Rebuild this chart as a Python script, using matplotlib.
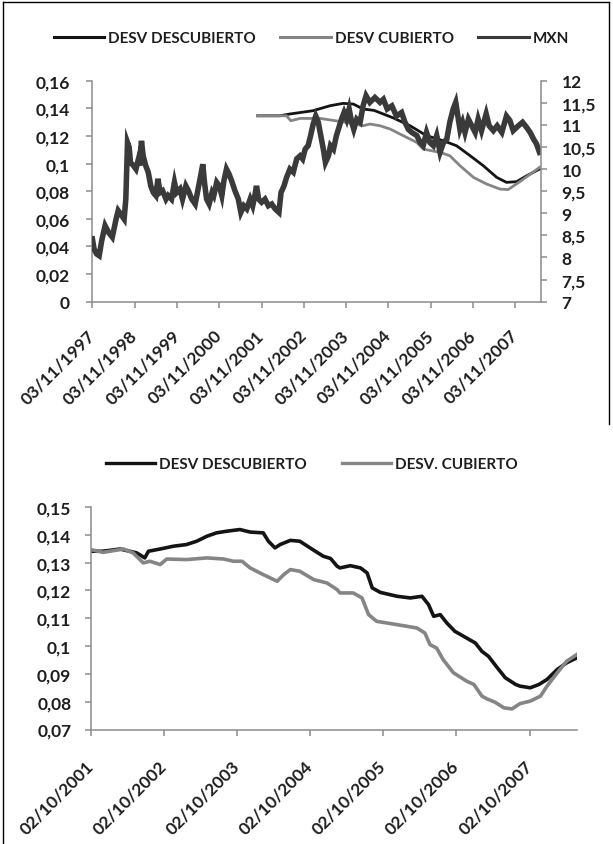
import matplotlib.pyplot as plt
from matplotlib.lines import Line2D

# ---- data (x in decimal years) ----
mxn_year = [1997.84, 1997.88, 1997.94, 1998.00, 1998.06, 1998.14, 1998.22, 1998.31, 1998.40, 1998.45,
            1998.53, 1998.59, 1998.63, 1998.67, 1998.71, 1998.74, 1998.81, 1998.87, 1998.93, 1998.96,
            1999.00, 1999.04, 1999.10, 1999.16, 1999.22, 1999.28, 1999.34, 1999.39, 1999.44, 1999.50,
            1999.58, 1999.63, 1999.71, 1999.78, 1999.83, 1999.91, 1999.97, 2000.05, 2000.11, 2000.19,
            2000.27, 2000.34, 2000.40, 2000.45, 2000.49, 2000.54, 2000.60, 2000.67, 2000.71, 2000.78,
            2000.84, 2000.90, 2000.95, 2001.01, 2001.07, 2001.13, 2001.21, 2001.29, 2001.35, 2001.42,
            2001.49, 2001.57, 2001.63, 2001.68, 2001.72, 2001.77, 2001.84, 2001.92, 2002.00, 2002.08,
            2002.16, 2002.25, 2002.30, 2002.37, 2002.43, 2002.51, 2002.59, 2002.67, 2002.75, 2002.81,
            2002.87, 2002.94, 2003.00, 2003.06, 2003.12, 2003.18, 2003.24, 2003.30, 2003.35, 2003.42,
            2003.47, 2003.54, 2003.61, 2003.68, 2003.73, 2003.79, 2003.85, 2003.91, 2003.97, 2004.02,
            2004.09, 2004.17, 2004.24, 2004.31, 2004.40, 2004.52, 2004.64, 2004.72, 2004.81, 2004.92,
            2005.03, 2005.15, 2005.23, 2005.31, 2005.39, 2005.51, 2005.59, 2005.66, 2005.74, 2005.82,
            2005.90, 2005.98, 2006.06, 2006.14, 2006.22, 2006.29, 2006.37, 2006.43, 2006.48, 2006.53,
            2006.59, 2006.65, 2006.73, 2006.81, 2006.89, 2006.96, 2007.04, 2007.15, 2007.22, 2007.32,
            2007.41, 2007.52, 2007.63, 2007.71, 2007.79, 2007.91, 2008.01, 2008.11, 2008.19, 2008.27,
            2008.34, 2008.41]
mxn_rate = [8.42, 8.19, 8.08, 8.04, 8.38, 8.72, 8.57, 8.46, 8.87, 9.06,
            8.95, 8.87, 9.32, 10.60, 10.49, 10.15, 10.08, 10.00, 10.23, 10.08,
            10.64, 10.30, 10.08, 9.93, 9.62, 9.47, 9.40, 9.78, 9.47, 9.51,
            9.32, 9.40, 9.32, 9.70, 9.47, 9.55, 9.32, 9.62, 9.51, 9.32,
            9.21, 9.55, 9.85, 10.11, 9.70, 9.32, 9.21, 9.47, 9.40, 9.70,
            9.62, 9.40, 9.74, 10.00, 9.89, 9.74, 9.51, 9.32, 9.02, 9.17,
            9.10, 9.32, 9.17, 9.40, 9.62, 9.32, 9.25, 9.32, 9.17, 9.21,
            9.10, 9.02, 9.47, 9.62, 9.81, 10.00, 9.93, 10.23, 10.30, 10.23,
            10.45, 10.53, 10.76, 11.02, 11.20, 11.06, 10.76, 10.45, 10.15, 10.30,
            10.53, 10.45, 10.76, 10.98, 11.13, 11.28, 11.13, 11.36, 11.06, 10.90,
            11.13, 11.06, 11.43, 11.66, 11.51, 11.62, 11.51, 11.58, 11.36, 11.43,
            11.20, 11.28, 11.06, 10.90, 10.83, 10.76, 10.60, 10.53, 10.83, 10.60,
            10.53, 10.76, 10.38, 10.60, 10.68, 11.06, 11.36, 11.51, 11.20, 10.90,
            11.06, 10.83, 11.13, 10.98, 10.83, 11.13, 10.87, 11.25, 10.98, 10.87,
            10.98, 10.83, 11.20, 11.10, 10.87, 10.98, 11.06, 10.94, 10.83, 10.68,
            10.57, 10.38]

top_descub_year = [2001.75, 2002.27, 2002.51, 2003.06, 2003.46, 2003.77, 2004.01, 2004.24, 2004.50,
                   2004.96, 2005.35, 2005.74, 2006.14, 2006.45, 2006.77, 2007.08, 2007.40, 2007.63,
                   2007.87, 2008.11, 2008.41]
top_descub = [0.1346, 0.1346, 0.1359, 0.1383, 0.1419, 0.1436, 0.1431, 0.1395, 0.1385,
              0.1330, 0.1274, 0.1202, 0.1165, 0.1129, 0.1057, 0.0985, 0.0900, 0.0864,
              0.0869, 0.0912, 0.0960]
top_cub_year = [2001.75, 2002.43, 2002.53, 2002.75, 2003.22, 2003.85, 2004.24, 2004.40, 2004.64,
                2004.88, 2005.19, 2005.51, 2005.66, 2006.06, 2006.29, 2006.53, 2006.85, 2007.16,
                2007.48, 2007.67, 2007.95, 2008.27, 2008.41]
top_cub = [0.1346, 0.1346, 0.1310, 0.1327, 0.1327, 0.1298, 0.1274, 0.1286, 0.1274,
           0.1250, 0.1202, 0.1153, 0.1105, 0.1081, 0.1057, 0.0985, 0.0900, 0.0852,
           0.0815, 0.0812, 0.0870, 0.0940, 0.0972]

bot_descub_year = [2001.75, 2001.92, 2002.15, 2002.38, 2002.49, 2002.54, 2002.70, 2002.88, 2003.06,
                   2003.20, 2003.34, 2003.47, 2003.61, 2003.79, 2003.93, 2004.11, 2004.18, 2004.27,
                   2004.34, 2004.48, 2004.61, 2004.75, 2004.93, 2005.03, 2005.12, 2005.16, 2005.30,
                   2005.44, 2005.53, 2005.60, 2005.71, 2005.94, 2006.12, 2006.28, 2006.37, 2006.44,
                   2006.53, 2006.62, 2006.73, 2006.89, 2007.01, 2007.10, 2007.19, 2007.31, 2007.42,
                   2007.56, 2007.62, 2007.76, 2007.88, 2007.99, 2008.13, 2008.26, 2008.40]
bot_descub = [0.1341, 0.1341, 0.1349, 0.1335, 0.1317, 0.1341, 0.1349, 0.1359, 0.1365,
              0.1377, 0.1395, 0.1407, 0.1413, 0.1419, 0.1410, 0.1407, 0.1377, 0.1353,
              0.1365, 0.1380, 0.1377, 0.1353, 0.1323, 0.1315, 0.1287, 0.1281, 0.1289,
              0.1281, 0.1263, 0.1209, 0.1193, 0.1179, 0.1173, 0.1179, 0.1149, 0.1107,
              0.1113, 0.1083, 0.1053, 0.1029, 0.1011, 0.0981, 0.0963, 0.0922, 0.0886,
              0.0862, 0.0856, 0.0850, 0.0862, 0.0880, 0.0916, 0.0940, 0.0958]
bot_cub_year = [2001.75, 2001.92, 2002.20, 2002.33, 2002.47, 2002.56, 2002.70, 2002.79, 2003.06,
                2003.34, 2003.57, 2003.70, 2003.82, 2003.93, 2004.11, 2004.30, 2004.39, 2004.48,
                2004.61, 2004.80, 2004.98, 2005.12, 2005.16, 2005.34, 2005.46, 2005.55, 2005.66,
                2005.94, 2006.21, 2006.32, 2006.39, 2006.48, 2006.57, 2006.71, 2006.89, 2006.99,
                2007.10, 2007.17, 2007.28, 2007.40, 2007.51, 2007.62, 2007.76, 2007.90, 2007.99,
                2008.13, 2008.26, 2008.40]
bot_cub = [0.1347, 0.1337, 0.1349, 0.1335, 0.1299, 0.1305, 0.1293, 0.1313, 0.1311,
           0.1317, 0.1313, 0.1305, 0.1305, 0.1281, 0.1257, 0.1233, 0.1257, 0.1275,
           0.1269, 0.1239, 0.1227, 0.1203, 0.1191, 0.1191, 0.1173, 0.1113, 0.1089,
           0.1077, 0.1065, 0.1047, 0.1005, 0.0993, 0.0951, 0.0904, 0.0874, 0.0862,
           0.0820, 0.0810, 0.0798, 0.0778, 0.0774, 0.0793, 0.0802, 0.0820, 0.0856,
           0.0904, 0.0946, 0.0970]

top_tick_years = list(range(1997, 2008))
top_xlabels = ['03/11/%d' % y for y in top_tick_years]
bot_tick_years = list(range(2001, 2008))
bot_xlabels = ['02/10/%d' % y for y in bot_tick_years]

top_left_ticks = [0, 0.02, 0.04, 0.06, 0.08, 0.10, 0.12, 0.14, 0.16]
top_left_labels = ['0', '0,02', '0,04', '0,06', '0,08', '0,1', '0,12', '0,14', '0,16']
top_right_ticks = [7, 7.5, 8, 8.5, 9, 9.5, 10, 10.5, 11, 11.5, 12]
top_right_labels = ['7', '7,5', '8', '8,5', '9', '9,5', '10', '10,5', '11', '11,5', '12']
bot_ticks = [0.07, 0.08, 0.09, 0.10, 0.11, 0.12, 0.13, 0.14, 0.15]
bot_labels = ['0,07', '0,08', '0,09', '0,1', '0,11', '0,12', '0,13', '0,14', '0,15']

# ---- style ----
plt.rcParams['font.family'] = ['Lato', 'DejaVu Sans']
plt.rcParams['font.weight'] = 'bold'
TXT = '#1e1e1e'
AXC = '#8c8c8c'
BLACK = '#141414'
GRAY = '#858585'
DARK = '#3a3a3a'
FS = 12.5


def frame(ax, left=True):
    for s in ['top', 'right', 'left', 'bottom']:
        ax.spines[s].set_visible(False)
    side = 'left' if left else 'right'
    for s in ['bottom', side]:
        ax.spines[s].set_visible(True)
        ax.spines[s].set_color(AXC)
        ax.spines[s].set_linewidth(1.1)


fig = plt.figure(figsize=(6.13, 8.45), dpi=100)

# ---------------- top chart ----------------
ax1 = fig.add_axes([0.1506, 0.6418, 0.7315, 0.2615])
ax1.plot(top_descub_year, top_descub, color=BLACK, lw=2.0)
ax1.plot(top_cub_year, top_cub, color=GRAY, lw=2.0)
ax1.set_xlim(1997.838, 2008.44)
ax1.set_ylim(0, 0.16)
ax1.set_yticks(top_left_ticks)
ax1.set_yticklabels(top_left_labels)
frame(ax1, left=True)
ax1.set_xticks([y + 306 / 365 for y in top_tick_years])
ax1.set_xticklabels(top_xlabels, rotation=45, ha='right', va='center', rotation_mode='anchor')
ax1.tick_params(axis='x', length=4, width=1.1, color=AXC, labelsize=FS, labelcolor=TXT, pad=18)
ax1.tick_params(axis='y', length=4, width=1.1, color=AXC, labelsize=FS, labelcolor=TXT, pad=12)

ax1r = ax1.twinx()
ax1r.plot(mxn_year, mxn_rate, color=DARK, lw=4.0, solid_joinstyle='miter')
ax1r.set_ylim(7, 12)
ax1r.set_yticks(top_right_ticks)
ax1r.set_yticklabels(top_right_labels)
frame(ax1r, left=False)
ax1r.spines['bottom'].set_visible(False)
ax1r.tick_params(axis='y', length=4, width=1.1, color=AXC, labelsize=FS, labelcolor=TXT, pad=11)

top_handles = [Line2D([], [], color=BLACK, lw=2.2), Line2D([], [], color=GRAY, lw=2.2),
               Line2D([], [], color=DARK, lw=2.2)]
fig.legend(top_handles, ['DESV DESCUBIERTO', 'DESV CUBIERTO', 'MXN'], loc='center',
           bbox_to_anchor=(0.508, 0.9538), ncol=3, frameon=False, fontsize=11,
           handlelength=3.3, handletextpad=0.25, columnspacing=1.6, labelcolor=TXT)

# ---------------- bottom chart ----------------
ax2 = fig.add_axes([0.1480, 0.1355, 0.7933, 0.2633])
ax2.plot(bot_descub_year, bot_descub, color=BLACK, lw=2.6)
ax2.plot(bot_cub_year, bot_cub, color=GRAY, lw=2.6)
ax2.set_xlim(2001.751, 2008.40)
ax2.set_ylim(0.07, 0.15)
ax2.set_yticks(bot_ticks)
ax2.set_yticklabels(bot_labels)
frame(ax2, left=True)
ax2.set_xticks([y + 274 / 365 for y in bot_tick_years])
ax2.set_xticklabels(bot_xlabels, rotation=45, ha='right', va='center', rotation_mode='anchor')
ax2.tick_params(axis='x', length=4, width=1.1, color=AXC, labelsize=FS, labelcolor=TXT, pad=20)
ax2.tick_params(axis='y', length=4, width=1.1, color=AXC, labelsize=FS, labelcolor=TXT, pad=10)

bot_handles = [Line2D([], [], color=BLACK, lw=2.4), Line2D([], [], color=GRAY, lw=2.4)]
fig.legend(bot_handles, ['DESV DESCUBIERTO', 'DESV. CUBIERTO'], loc='center',
           bbox_to_anchor=(0.509, 0.4497), ncol=2, frameon=False, fontsize=11,
           handlelength=3.2, handletextpad=0.25, columnspacing=2.3, labelcolor=TXT)

# thin black border of the original screenshot
fig.add_artist(Line2D([0.0057, 0.0057], [0.0, 0.9964], transform=fig.transFigure, color='black', lw=1))
fig.add_artist(Line2D([0.0057, 0.9935], [0.9964, 0.9964], transform=fig.transFigure, color='black', lw=1))
fig.add_artist(Line2D([0.9935, 0.9935], [0.9964, 0.497], transform=fig.transFigure, color='black', lw=1))

fig.savefig('out.png', dpi=100)
